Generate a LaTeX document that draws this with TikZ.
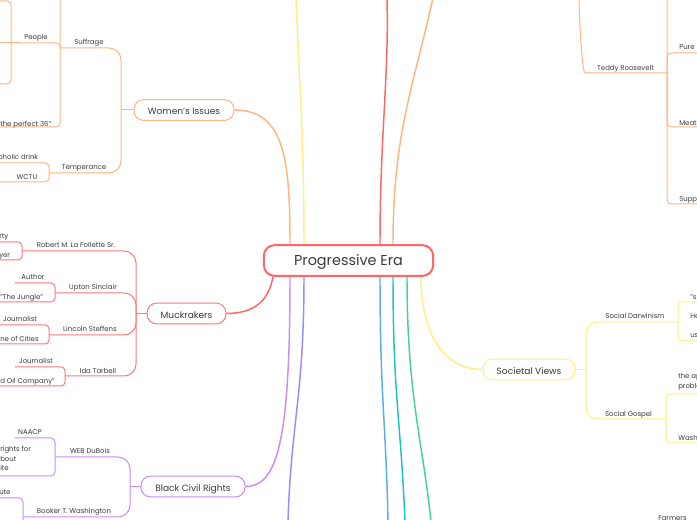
\documentclass[tikz,border=0pt]{standalone}
\usepackage{fontspec}
\setmainfont{Poppins}
\usetikzlibrary{positioning,calc}
\definecolor{ink}{RGB}{58,58,58}
\definecolor{hubred}{RGB}{255,102,102}
\definecolor{peach}{RGB}{255,180,130}
\definecolor{coral}{RGB}{255,122,122}
\definecolor{lilac}{RGB}{204,140,244}
\definecolor{periwinkle}{RGB}{150,140,255}
\definecolor{skyblue}{RGB}{92,170,240}
\definecolor{lagoon}{RGB}{24,196,200}
\definecolor{mint}{RGB}{64,212,150}
\definecolor{lemon}{RGB}{255,238,128}

\begin{document}
\begin{tikzpicture}[x=0.75pt, y=-0.75pt,
    every node/.style={text height=0.72em, text depth=0.02em},
    hub/.style={draw=hubred, line width=1.5pt, rounded corners=8pt, fill=white,
                minimum width=127pt, minimum height=23pt, text=ink,
                font=\fontsize{10.8}{12}\selectfont},
    topic/.style={line width=0.75pt, rounded corners=7pt, fill=white,
                  minimum height=15.5pt, text=ink, font=\fontsize{6.8}{8}\selectfont},
    lbl/.style={text=ink, inner sep=0pt, font=\fontsize{5.2}{6}\selectfont},
    trunk/.style={line width=1.1pt},
    limb/.style={line width=0.75pt, rounded corners=9pt},
    twig/.style={line width=0.75pt, rounded corners=3pt}]
  \useasboundingbox (0,0) rectangle (697,520);
  \clip (0,0) rectangle (697,520);

  % centre
  \node[hub] (era) at (348.5,260.5) {Progressive Era};
  \coordinate (upA) at (296,-2);
  \coordinate (upB) at (387,-2);
  \coordinate (upC) at (433,-2);
  \coordinate (dnA) at (288,522);
  \coordinate (dnB) at (388,522);
  \coordinate (dnC) at (405,522);
  \coordinate (dnD) at (431,522);

  % main topics
  \node[topic, draw=peach, minimum width=75pt] (women) at (184,110) {Women's Issues};
  \node[topic, draw=coral, minimum width=59pt] (muck) at (186.5,313.5) {Muckrakers};
  \node[topic, draw=lilac, minimum width=78pt] (civil) at (193,486.5) {Black Civil Rights};
  \node[topic, draw=lemon, minimum width=69pt] (views) at (529,369.5) {Societal Views};

  % branches leaving the centre
  \draw[trunk, lemon] ($(era.north)+(-44.5,0)$) .. controls +(0,-110) and +(3,80) .. (upA);
  \draw[trunk, hubred] ($(era.north)+(31.5,0)$) .. controls +(0,-110) and +(2,80) .. (upB);
  \draw[trunk, peach] ($(era.north)+(44.5,0)$) .. controls +(0,-110) and +(-20,90) .. (upC);
  \draw[trunk, peach] ($(era.north)+(-58.5,0)$) .. controls +(0,-85) and +(50,0) .. (women.east);
  \draw[trunk, hubred] ($(era.south)+(-75.5,0)$) .. controls +(-4,22) and +(30,0) .. (muck.east);
  \draw[trunk, lilac] ($(era.south)+(-58.5,0)$) .. controls +(0,165) and +(32,0) .. (civil.east);
  \draw[trunk, periwinkle] ($(era.south)+(-44.5,0)$) .. controls +(0,120) and +(3,-100) .. (dnA);
  \draw[trunk, skyblue] ($(era.south)+(31.5,0)$) .. controls +(0,120) and +(-2,-100) .. (dnB);
  \draw[trunk, lagoon] ($(era.south)+(44.5,0)$) .. controls +(0,120) and +(-4,-100) .. (dnC);
  \draw[trunk, mint] ($(era.south)+(58.5,0)$) .. controls +(0,120) and +(-8,-80) .. (dnD);
  \draw[trunk, lemon] ($(era.south)+(72.5,0)$) .. controls +(0,55) and +(-40,0) .. (views.west);

  % Women's Issues
  \draw[limb, peach] (women.west) -- (121,110);
  \foreach \y/\x in {48/60, 173/49}
    \draw[limb, peach] (121,110) -- (121,\y) -- (\x,\y);
  \foreach \y/\x in {-12/-5, 43/20, 127/-5}
    \draw[twig, peach] (60,48) -- (60,\y) -- (\x,\y);
  \draw[twig, peach] (20,43) -- (-5,43);
  \foreach \y in {1, 84}
    \draw[twig, peach] (11,43) -- (11,\y) -- (-5,\y);
  \foreach \y in {163, 182}
    \draw[twig, peach] (49,173) -- (49,\y) -- (-5,\y);
  \node[lbl] (suffrage) at (89,40) {Suffrage};
  \node[lbl] (people) at (36,35) {People};
  \node[lbl, anchor=west] (perfect) at (0,121.5) {the perfect 36"};
  \node[lbl] (temper) at (84,165) {Temperance};
  \node[lbl, anchor=west] (drink) at (-2,155) {oholic drink};
  \node[lbl] (wctu) at (27,175) {WCTU};

  % Muckrakers
  \draw[limb, coral] (muck.west) -- (136,313.5);
  \foreach \y/\x in {251/22, 293/55, 335/49, 376/65}
    \draw[limb, coral] (136,313.5) -- (136,\y) -- (\x,\y);
  \foreach \y in {242, 260}
    \draw[twig, coral] (22,251) -- (22,\y) -- (-5,\y);
  \foreach \y/\x in {283/15, 302/-5}
    \draw[twig, coral] (55,293) -- (55,\y) -- (\x,\y);
  \foreach \y in {325, 344}
    \draw[twig, coral] (49,335) -- (49,\y) -- (-5,\y);
  \foreach \y/\x in {367/15, 386/-5}
    \draw[twig, coral] (65,376) -- (65,\y) -- (\x,\y);
  \node[lbl] (lafollette) at (76,243) {Robert M. La Follette Sr.};
  \node[lbl, anchor=west] (party) at (-1,233.5) {rty};
  \node[lbl, anchor=west] (lawyer) at (-1,252.5) {yer};
  \node[lbl] (sinclair) at (93,285) {Upton Sinclair};
  \node[lbl] (author) at (33,275) {Author};
  \node[lbl, anchor=west] (jungle) at (0,294.5) {"The Jungle"};
  \node[lbl] (steffens) at (90,327) {Lincoln Steffens};
  \node[lbl] (journA) at (20,317) {Journalist};
  \node[lbl, anchor=west] (shame) at (0,336.5) {ne of Cities};
  \node[lbl] (tarbell) at (98,369) {Ida Tarbell};
  \node[lbl] (journB) at (36,359) {Journalist};
  \node[lbl, anchor=west] (standard) at (0,378.5) {d Oil Company"};

  % Black Civil Rights
  \draw[limb, lilac] (civil.west) -- (130,486.5);
  \foreach \y/\x in {457/55, 517/23}
    \draw[limb, lilac] (130,486.5) -- (130,\y) -- (\x,\y);
  \foreach \y/\x in {438/15, 476/-5}
    \draw[twig, lilac] (55,457) -- (55,\y) -- (\x,\y);
  \foreach \y in {498, 530}
    \draw[twig, lilac] (23,517) -- (23,\y) -- (-5,\y);
  \node[lbl] (dubois) at (90,449) {WEB DuBois};
  \node[lbl] (naacp) at (30,430) {NAACP};
  \node[lbl, anchor=west, align=left, font=\fontsize{5.2}{7}\selectfont,
        text height=, text depth=] (equal) at (0,458.5) {rights for\\bout\\ite};
  \node[lbl] (washington) at (74,509) {Booker T. Washington};
  \node[lbl, anchor=west] (tuskegee) at (-1,490) {ute};

  % Societal Views
  \draw[limb, lemon] (views.east) -- (586,369.5);
  \foreach \y/\x in {322/678, 419/666}
    \draw[limb, lemon] (586,369.5) -- (586,\y) -- (\x,\y);
  \foreach \y in {302, 341}
    \draw[twig, lemon] (678,322) -- (678,\y) -- (702,\y);
  \foreach \y in {394, 443}
    \draw[twig, lemon] (666,419) -- (666,\y) -- (702,\y);
  \node[lbl] (darwin) at (635,314) {Social Darwinism};
  \node[lbl, anchor=west] (fittest) at (690,295) {"s};
  \node[lbl, anchor=west] (spencer) at (690,314) {He};
  \node[lbl, anchor=west] (justify) at (690,333) {us};
  \node[lbl] (gospel) at (628.5,412) {Social Gospel};
  \node[lbl, anchor=west, align=left, font=\fontsize{5.2}{7}\selectfont,
        text height=, text depth=] (apply) at (678,382) {the ap\\proble};
  \node[lbl, anchor=west] (gladden) at (678,436) {Wash};

  % Teddy Roosevelt
  \coordinate (teddyIn) at (579,-2);
  \draw[limb, peach] (teddyIn) .. controls (580,40) and (583,73) .. (597,73) -- (667,73);
  \foreach \y in {-20, 53, 127, 204}
    \draw[twig, peach] (667,73) -- (667,\y) -- (702,\y);
  \node[lbl] (teddy) at (625.5,66) {Teddy Roosevelt};
  \node[lbl, anchor=west] (food) at (679,45) {Pure};
  \node[lbl, anchor=west] (meat) at (679,120.5) {Meat};
  \node[lbl, anchor=west] (supp) at (679,196.5) {Supp};

  % farther down
  \node[lbl, anchor=west] (farmers) at (658,516) {Farmers};
\end{tikzpicture}
\end{document}
